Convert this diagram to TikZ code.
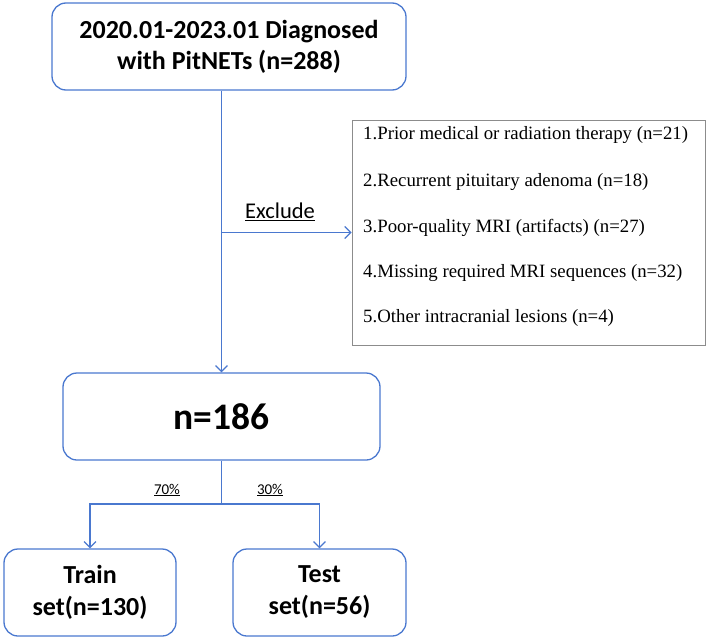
\documentclass[tikz,border=0pt]{standalone}
\usepackage{fontspec}
\setmainfont{Carlito}
\newfontfamily\timesfont{Liberation Serif}
\usepackage{tikz}
\usetikzlibrary{arrows.meta, positioning, calc}
\definecolor{boxblue}{HTML}{4A78CF}
\definecolor{boxgrey}{HTML}{8C8C8C}

\tikzset{
  flowbox/.style={draw=boxblue, line width=1.3pt, rounded corners=14pt, align=center, font=\bfseries},
  flowline/.style={draw=boxblue, line width=1.2pt},
  flowarrow/.style={flowline, -{Straight Barb[length=6pt, width=12pt]}},
  item/.style={anchor=west, inner sep=0pt, font=\timesfont\fontsize{18.8}{20}\selectfont}
}

\begin{document}
\begin{tikzpicture}[x=1pt, y=-1pt]
  \useasboundingbox (0,0) rectangle (709,640);

  % Boxes
  \node[flowbox, minimum width=354pt, minimum height=87pt, font=\bfseries\fontsize{26}{31}\selectfont] (cohort) at (229,46.5) {2020.01-2023.01 Diagnosed\\with PitNETs (n=288)};
  \node[flowbox, minimum width=317pt, minimum height=87pt, font=\bfseries\fontsize{37.5}{40}\selectfont] (included) at (221.5,416.5) {n=186};
  \node[flowbox, minimum width=172pt, minimum height=87pt, font=\bfseries\fontsize{26}{32}\selectfont] (train) at (90,592.5) {Train\\set(n=130)};
  \node[flowbox, minimum width=173pt, minimum height=87pt, font=\bfseries\fontsize{26}{32}\selectfont] (test) at (319.5,592.5) {Test\\set(n=56)};

  % Exclusion list
  \node[draw=boxgrey, line width=0.9pt, minimum width=353pt, minimum height=225pt, inner sep=0pt] (excl) at (528.5,232.5) {};
  \node[item] (ex1) at (363,135) {1.Prior medical or radiation therapy (n=21)};
  \node[item] (ex2) at (363,182) {2.Recurrent pituitary adenoma (n=18)};
  \node[item] (ex3) at (363,228) {3.Poor-quality MRI (artifacts) (n=27)};
  \node[item] (ex4) at (363,273) {4.Missing required MRI sequences (n=32)};
  \node[item] (ex5) at (363,318) {5.Other intracranial lesions (n=4)};

  % Arrows
  \draw[flowarrow] (included.north |- cohort.south) -- (included.north);
  \draw[flowarrow] (excl.west -| included.north) -- (excl.west);
  \node[font=\fontsize{22.5}{25}\selectfont] (exlabel) at (280,212) {\underline{Exclude}};

  \coordinate (split) at (included.south |- 0,504);
  \draw[flowline] (included.south) -- (split);
  \draw[flowarrow] (split) -| (train.north);
  \draw[flowarrow] (split) -| (test.north);
  \node[font=\fontsize{15}{17}\selectfont] (trainpct) at (167,490) {\underline{70\%}};
  \node[font=\fontsize{15}{17}\selectfont] (testpct) at (270,490) {\underline{30\%}};
\end{tikzpicture}
\end{document}
